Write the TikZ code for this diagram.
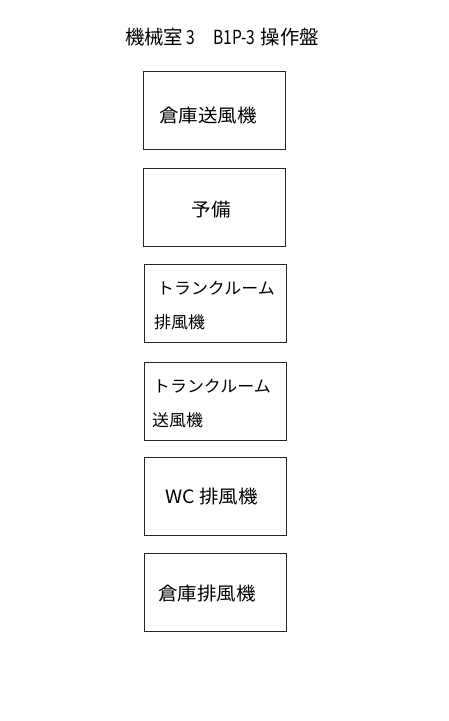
\documentclass[tikz,border=0pt]{standalone}
\usepackage{graphicx}
\usepackage{fontspec}
\setmainfont{Noto Sans CJK JP}
\newfontfamily\wideCJK[FakeStretch=1.06]{Noto Sans CJK JP}
\newfontfamily\midCJK[FakeStretch=1.03]{Noto Sans CJK JP}
\newcommand{\narrowlat}[1]{\scalebox{0.8}[1]{#1}}
\begin{document}
\begin{tikzpicture}[x=1bp,y=-1bp,
  panel/.style={draw=black!85,line width=0.9bp},
  big/.style={inner sep=0pt,font=\wideCJK\fontsize{18.5}{20}\selectfont},
  small/.style={inner sep=0pt,font=\midCJK\fontsize{16.5}{18}\selectfont},
  ttl/.style={inner sep=0pt,font=\fontsize{19.5}{22}\selectfont}]
\useasboundingbox (0,0) rectangle (449,721);
\node[ttl] (title) at (222,37) {機械室\hspace{3bp}\narrowlat{3}\hspace{-1bp}　\narrowlat{B1P-3}\hspace{5bp}操作盤};
\draw[panel] (143,71) rectangle (285,149) node[pos=0,coordinate] (b1) {};
\node[big,anchor=west] (t1) at (159,115) {倉庫送風機};
\draw[panel] (143,168) rectangle (285,246) node[pos=0,coordinate] (b2) {};
\node[big] (t2) at (211.5,209.5) {予備};
\draw[panel] (144,264) rectangle (286,342) node[pos=0,coordinate] (b3) {};
\node[small,anchor=west] (t3a) at (157,288.5) {トランクルーム};
\node[small,anchor=west] (t3b) at (154,322.5) {排風機};
\draw[panel] (144,362) rectangle (286,440) node[pos=0,coordinate] (b4) {};
\node[small,anchor=west] (t4a) at (153,386.5) {トランクルーム};
\node[small,anchor=west] (t4b) at (152,420) {送風機};
\draw[panel] (144,457) rectangle (286,535) node[pos=0,coordinate] (b5) {};
\node[big,anchor=west] (t5) at (165,497) {WC 排風機};
\draw[panel] (144,553) rectangle (286,631) node[pos=0,coordinate] (b6) {};
\node[big,anchor=west] (t6) at (158,593.5) {倉庫排風機};
\end{tikzpicture}
\end{document}
